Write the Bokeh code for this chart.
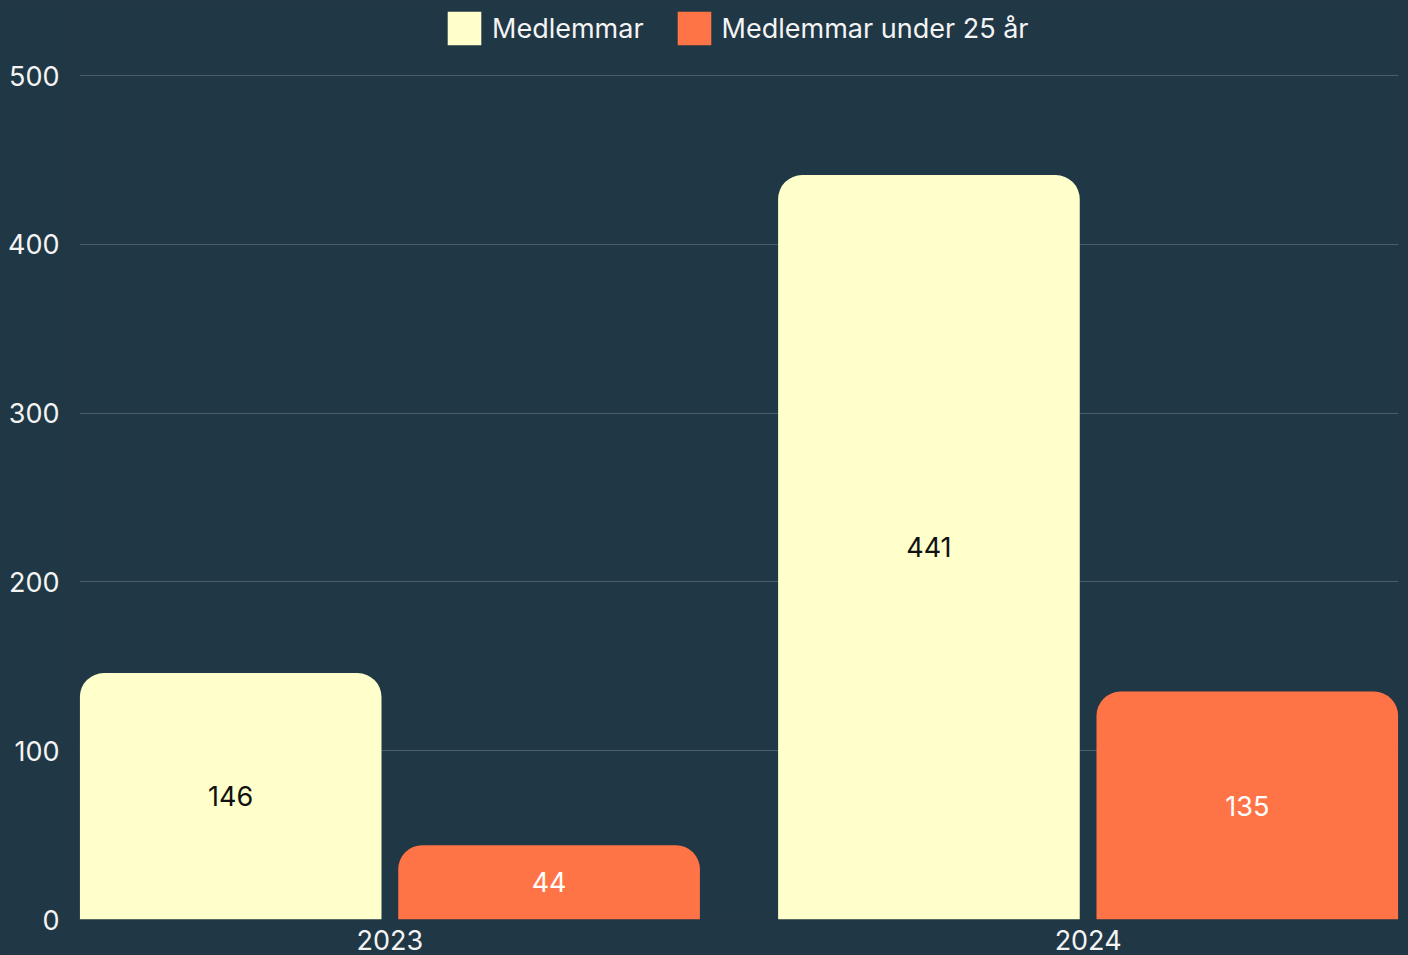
from bokeh.plotting import figure
from bokeh.models import ColumnDataSource, Legend, LegendItem, FixedTicker, Range1d
from bokeh.core.properties import value
from bokeh.embed import file_html
from bokeh.resources import INLINE

years = ["2023", "2024"]
series = ["Medlemmar", "Medlemmar under 25 år"]
medlemmar = [146, 441]
under25 = [44, 135]
y_ticks = [0, 100, 200, 300, 400, 500]

BG = "#203745"
YELLOW = "#FFFFCC"
ORANGE = "#FF7446"
GRID = "#4B5E6B"
TXT = "#F4F4F4"
FONT = "Inter"
FS = "27px"

x_idx = list(range(len(years)))
off = 0.228
bw = 0.432

# frame spans full height above the axis; y=500 lands 75px from the top
y_end = 500 * 919 / 844

p = figure(width=1408, height=955, output_backend="svg", toolbar_location=None,
           x_range=Range1d(-0.4445, 1.4445), y_range=Range1d(0, y_end),
           min_border_left=79, min_border_right=10, min_border_top=0, min_border_bottom=36)
p.background_fill_color = BG
p.border_fill_color = BG
p.outline_line_color = None
p.styles = {"background-color": BG}

src1 = ColumnDataSource(dict(x=[i - off for i in x_idx], top=medlemmar,
                             ym=[v / 2 for v in medlemmar], lab=[str(v) for v in medlemmar]))
src2 = ColumnDataSource(dict(x=[i + off for i in x_idx], top=under25,
                             ym=[v / 2 for v in under25], lab=[str(v) for v in under25]))

r1 = p.vbar(x="x", top="top", bottom=0, width=bw, source=src1, fill_color=YELLOW,
            line_color=None, border_radius=(24, 24, 0, 0))
r2 = p.vbar(x="x", top="top", bottom=0, width=bw, source=src2, fill_color=ORANGE,
            line_color=None, border_radius=(24, 24, 0, 0))

p.text(x="x", y="ym", text="lab", source=src1, text_align="center", text_baseline="middle",
       text_font=value(FONT), text_font_size=FS, text_color="#111111")
p.text(x="x", y="ym", text="lab", source=src2, text_align="center", text_baseline="middle",
       text_font=value(FONT), text_font_size=FS, text_color="#FFFFFF")

p.xaxis.ticker = FixedTicker(ticks=x_idx)
p.xaxis.major_label_overrides = {i: y for i, y in zip(x_idx, years)}
p.yaxis.ticker = FixedTicker(ticks=y_ticks)
for ax in (p.xaxis, p.yaxis):
    ax.axis_line_color = None
    ax.major_tick_line_color = None
    ax.minor_tick_line_color = None
    ax.major_tick_in = 0
    ax.major_tick_out = 0
    ax.major_label_text_font = FONT
    ax.major_label_text_font_size = FS
    ax.major_label_text_color = TXT
p.yaxis.major_label_standoff = 20
p.xaxis.major_label_standoff = 10

p.xgrid.grid_line_color = None
p.ygrid.grid_line_color = GRID
p.ygrid.grid_line_width = 1
p.ygrid.level = "underlay"

legend = Legend(items=[LegendItem(label=series[0], renderers=[r1]),
                       LegendItem(label=series[1], renderers=[r2])],
                orientation="horizontal", location=(364, 870),
                glyph_width=42, glyph_height=42, label_standoff=7, spacing=29,
                padding=0, margin=0, background_fill_alpha=0, border_line_color=None,
                label_text_font=FONT, label_text_font_size=FS, label_text_color=TXT)
p.add_layout(legend, "center")

open("out.html", "w").write(file_html(p, INLINE))
